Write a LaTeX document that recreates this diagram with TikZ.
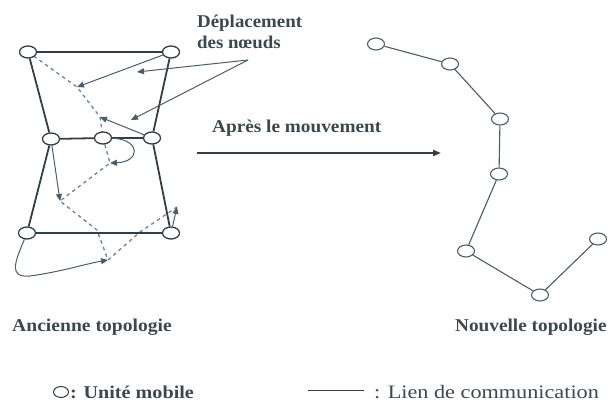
\documentclass[tikz,border=0pt]{standalone}
\usepackage{graphicx}
\usepackage{fontspec}
\setmainfont{Liberation Serif}
\usetikzlibrary{shapes.geometric,arrows.meta}
\definecolor{inkc}{RGB}{50,62,70}
\definecolor{textc}{RGB}{58,72,80}
\definecolor{movec}{RGB}{72,94,106}
\definecolor{dashc}{RGB}{105,132,150}
\newcommand{\wide}[2]{\scalebox{#1}[1]{#2}}
\tikzset{
  unit/.style={ellipse,draw=inkc,line width=1.3pt,fill=white,minimum width=17pt,minimum height=12pt,inner sep=0pt},
  newunit/.style={ellipse,draw=movec,line width=1.1pt,fill=white,minimum width=17pt,minimum height=12pt,inner sep=0pt},
  oldlink/.style={draw=inkc,line width=1.8pt},
  newlink/.style={draw=movec,line width=1.1pt},
  pathlink/.style={draw=dashc,line width=1.3pt,dash pattern=on 3.5pt off 3.5pt},
  move/.style={draw=movec,line width=1pt,-{Triangle[length=7pt,width=6pt]}},
  lbl/.style={text=textc,font=\fontsize{18}{21}\selectfont\bfseries,inner sep=0pt},
  lblr/.style={text=textc,font=\fontsize{19}{21}\selectfont,inner sep=0pt},
}
\begin{document}
\begin{tikzpicture}[x=1pt,y=-1pt]
\useasboundingbox (0,0) rectangle (612,404);

% positions reached after the move
\coordinate (p1) at (77,87);
\coordinate (p2) at (100,117);
\coordinate (p3) at (110,163);
\coordinate (p4) at (60,201);
\coordinate (p5) at (108,260);
\coordinate (p6) at (177,207);
\coordinate (q1) at (97,230);
\coordinate (q2) at (140,232);

% new chain of positions (dashed)
\draw[pathlink] (28,52) -- (p1) -- (p2) -- (103,138) -- (p3) -- (p4) -- (q1) -- (p5) -- (q2) -- (p6);

% old topology
\node[unit] (TL) at (28,52) {};
\node[unit] (TR) at (171,52) {};
\node[unit] (ML) at (51,139) {};
\node[unit] (MM) at (103,138) {};
\node[unit] (MR) at (152,138) {};
\node[unit] (BL) at (27,233) {};
\node[unit] (BR) at (171,233) {};
\path[oldlink] (TL) -- (TR) (TL) -- (ML) (TR) -- (MR) (ML) -- (MM) (MM) -- (MR)
  (ML) -- (BL) (MR) -- (BR) (BL) -- (BR);

% node moves
\draw[move] (TR) -- (p1);
\draw[move] (MR) -- (p2);
\draw[move] (MM.east) .. controls (142,140) and (140,162) .. (p3);
\draw[move] (ML) -- (p4);
\draw[move] (BL) .. controls (15,262) and (8,278) .. (30,276) .. controls (60,272) and (85,264) .. (p5);
\draw[move] (BR) -- (p6);

% label of the moves
\node[lbl,align=left,anchor=west] (dep) at (197,32) {\wide{1.05}{Déplacement}\\\wide{1.05}{des nœuds}};
\coordinate (dsrc) at (248,60);
\coordinate (da) at (137,72);
\coordinate (db) at (131,120);
\draw[move] (dsrc) -- (da);
\draw[move] (dsrc) -- (db);

% transition arrow
\node[lbl,anchor=west] (apres) at (212,128) {\wide{1.07}{Après le mouvement}};
\coordinate (a0) at (197,153);
\coordinate (a1) at (441,153);
\draw[draw=inkc,line width=2pt,-{Triangle[length=8pt,width=6pt]}] (a0) -- (a1);

% new topology
\node[newunit] (N1) at (376,44) {};
\node[newunit] (N2) at (450,64) {};
\node[newunit] (N3) at (500,119) {};
\node[newunit] (N4) at (499,174) {};
\node[newunit] (N5) at (466,251) {};
\node[newunit] (N6) at (540,295) {};
\node[newunit] (N7) at (598,239) {};
\path[newlink] (N1) -- (N2) -- (N3) -- (N4) -- (N5) -- (N6) -- (N7);

% captions
\node[lbl,anchor=west] (anc) at (12,327) {\wide{1.09}{Ancienne topologie}};
\node[lbl,anchor=west] (nouv) at (455,327) {\wide{1.07}{Nouvelle topologie}};

% legend
\node[unit,line width=1pt,minimum width=15pt,minimum height=11pt] (leg) at (61,392) {};
\node[lbl,anchor=west] (legu) at (70,392) {\wide{1.12}{: Unité mobile}};
\coordinate (l0) at (308,390);
\coordinate (l1) at (364,390);
\draw[draw=inkc,line width=1pt] (l0) -- (l1);
\node[lblr,anchor=west] (legl) at (374,392) {\wide{1.17}{: Lien de communication}};
\end{tikzpicture}
\end{document}
